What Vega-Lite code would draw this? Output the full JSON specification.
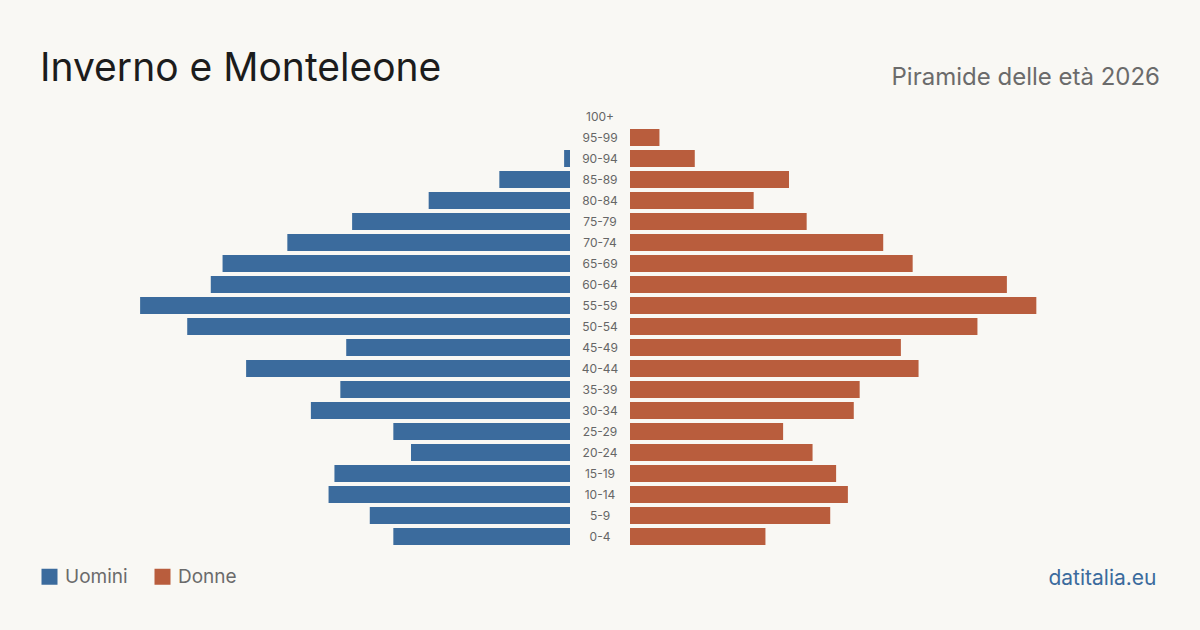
{
  "$schema": "https://vega.github.io/schema/vega-lite/v6.json",
  "background": "#f9f8f4",
  "padding": {"left": 40, "right": 40, "top": 50, "bottom": 42},
  "spacing": 0,
  "config": {"view": {"stroke": null}, "font": "Inter"},
  "datasets": {
    "pop": [
      {"age": "100+", "sex": "Uomini", "value": 0},
      {"age": "95-99", "sex": "Uomini", "value": 0},
      {"age": "90-94", "sex": "Uomini", "value": 1},
      {"age": "85-89", "sex": "Uomini", "value": 12},
      {"age": "80-84", "sex": "Uomini", "value": 24},
      {"age": "75-79", "sex": "Uomini", "value": 37},
      {"age": "70-74", "sex": "Uomini", "value": 48},
      {"age": "65-69", "sex": "Uomini", "value": 59},
      {"age": "60-64", "sex": "Uomini", "value": 61},
      {"age": "55-59", "sex": "Uomini", "value": 73},
      {"age": "50-54", "sex": "Uomini", "value": 65},
      {"age": "45-49", "sex": "Uomini", "value": 38},
      {"age": "40-44", "sex": "Uomini", "value": 55},
      {"age": "35-39", "sex": "Uomini", "value": 39},
      {"age": "30-34", "sex": "Uomini", "value": 44},
      {"age": "25-29", "sex": "Uomini", "value": 30},
      {"age": "20-24", "sex": "Uomini", "value": 27},
      {"age": "15-19", "sex": "Uomini", "value": 40},
      {"age": "10-14", "sex": "Uomini", "value": 41},
      {"age": "5-9", "sex": "Uomini", "value": 34},
      {"age": "0-4", "sex": "Uomini", "value": 30},
      {"age": "100+", "sex": "Donne", "value": 0},
      {"age": "95-99", "sex": "Donne", "value": 5},
      {"age": "90-94", "sex": "Donne", "value": 11},
      {"age": "85-89", "sex": "Donne", "value": 27},
      {"age": "80-84", "sex": "Donne", "value": 21},
      {"age": "75-79", "sex": "Donne", "value": 30},
      {"age": "70-74", "sex": "Donne", "value": 43},
      {"age": "65-69", "sex": "Donne", "value": 48},
      {"age": "60-64", "sex": "Donne", "value": 64},
      {"age": "55-59", "sex": "Donne", "value": 69},
      {"age": "50-54", "sex": "Donne", "value": 59},
      {"age": "45-49", "sex": "Donne", "value": 46},
      {"age": "40-44", "sex": "Donne", "value": 49},
      {"age": "35-39", "sex": "Donne", "value": 39},
      {"age": "30-34", "sex": "Donne", "value": 38},
      {"age": "25-29", "sex": "Donne", "value": 26},
      {"age": "20-24", "sex": "Donne", "value": 31},
      {"age": "15-19", "sex": "Donne", "value": 35},
      {"age": "10-14", "sex": "Donne", "value": 37},
      {"age": "5-9", "sex": "Donne", "value": 34},
      {"age": "0-4", "sex": "Donne", "value": 23}
    ]
  },
  "data": {"name": "pop"},
  "hconcat": [
    {
      "width": 530,
      "height": 441,
      "title": {"text": "Inverno e Monteleone", "anchor": "start", "fontSize": 39, "fontWeight": "normal", "color": "#1c1c1c", "baseline": "alphabetic", "offset": -14},
      "transform": [{"filter": "datum.sex === 'Uomini'"}],
      "mark": {"type": "bar"},
      "encoding": {
        "y": {"field": "age", "type": "nominal", "axis": null,
          "scale": {"domain": ["100+","95-99","90-94","85-89","80-84","75-79","70-74","65-69","60-64","55-59","50-54","45-49","40-44","35-39","30-34","25-29","20-24","15-19","10-14","5-9","0-4"], "paddingInner": 0.19, "paddingOuter": 0.095}},
        "x": {"field": "value", "type": "quantitative", "axis": null, "scale": {"domain": [0, 90], "reverse": true, "nice": false}},
        "color": {"field": "sex", "type": "nominal",
          "scale": {"domain": ["Uomini", "Donne"], "range": ["#3b6b9d", "#b95d3d"]},
          "legend": {"orient": "none", "legendX": 0, "legendY": 461, "direction": "horizontal", "title": null, "symbolType": "square", "symbolSize": 256, "symbolStrokeWidth": 0, "symbolOpacity": 1, "labelFontSize": 19, "labelColor": "#6b6b6b", "labelOffset": 6, "columnPadding": 25}}
      }
    },
    {
      "width": 60,
      "height": 441,
      "transform": [{"filter": "datum.sex === 'Uomini'"}],
      "mark": {"type": "text", "fontSize": 12, "color": "#666666", "align": "center", "baseline": "middle"},
      "encoding": {
        "y": {"field": "age", "type": "nominal", "axis": null,
          "scale": {"domain": ["100+","95-99","90-94","85-89","80-84","75-79","70-74","65-69","60-64","55-59","50-54","45-49","40-44","35-39","30-34","25-29","20-24","15-19","10-14","5-9","0-4"], "paddingInner": 0.19, "paddingOuter": 0.095}},
        "text": {"field": "age"}
      }
    },
    {
      "width": 530,
      "height": 441,
      "title": {"text": "Piramide delle età 2026", "anchor": "end", "fontSize": 24, "fontWeight": "normal", "color": "#6b6b6b", "baseline": "alphabetic", "offset": -3},
      "transform": [{"filter": "datum.sex === 'Donne'"}],
      "mark": {"type": "bar"},
      "encoding": {
        "y": {"field": "age", "type": "nominal", "axis": null,
          "scale": {"domain": ["100+","95-99","90-94","85-89","80-84","75-79","70-74","65-69","60-64","55-59","50-54","45-49","40-44","35-39","30-34","25-29","20-24","15-19","10-14","5-9","0-4"], "paddingInner": 0.19, "paddingOuter": 0.095}},
        "x": {"field": "value", "type": "quantitative", "scale": {"domain": [0, 90], "nice": false},
          "axis": {"title": "datitalia.eu", "labels": false, "ticks": false, "domain": false, "grid": false, "titleColor": "#3b6b9d", "titleFontSize": 21, "titleFontWeight": "normal", "titleBaseline": "alphabetic", "titleAlign": "right", "titleX": 526, "titleY": 37.5}},
        "color": {"field": "sex", "type": "nominal",
          "scale": {"domain": ["Uomini", "Donne"], "range": ["#3b6b9d", "#b95d3d"]}}
      }
    }
  ]
}
